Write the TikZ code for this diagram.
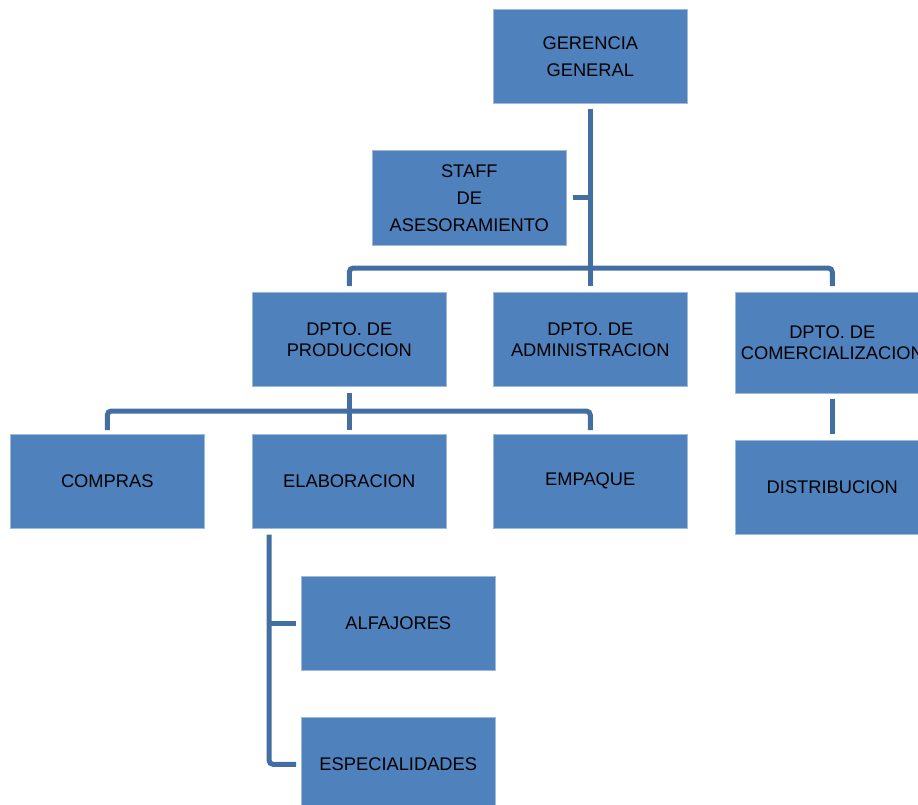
\documentclass[tikz,border=0pt]{standalone}
\usepackage{fontspec}
\setmainfont{Liberation Sans}
\definecolor{boxblue}{HTML}{4F81BD}
\definecolor{linkblue}{HTML}{436EA1}
\begin{document}
\begin{tikzpicture}[x=1pt,y=-1pt,
  unit/.style={fill=boxblue, draw=boxblue!55!white, line width=0.6pt,
    minimum width=194pt, minimum height=94pt, inner sep=0pt,
    align=center, anchor=north west, text=black,
    font=\fontsize{18.3}{27}\selectfont},
  dept/.style={unit, font=\fontsize{18.3}{21}\selectfont},
  link/.style={draw=linkblue, line width=5pt, rounded corners=4pt}]
\useasboundingbox (0,0) rectangle (918,805);

% organisation units
\node[unit] (gg) at (493,9) {GERENCIA\\GENERAL};
\node[unit, minimum height=95pt] (staff) at (372,150) {STAFF\\DE\\ASESORAMIENTO};
\node[dept] (prod) at (252,292) {DPTO. DE\\PRODUCCION};
\node[dept] (adm) at (493,292) {DPTO. DE\\ADMINISTRACION};
\node[dept, minimum height=101pt] (com) at (735,292) {DPTO. DE\\COMERCIALIZACION};
\node[unit] (compras) at (10,434) {COMPRAS};
\node[unit] (elab) at (252,434) {ELABORACION};
\node[unit] (empaque) at (493,434) {EMPAQUE};
\node[unit] (dist) at (735,440) {DISTRIBUCION};
\node[unit] (alf) at (301,576) {ALFAJORES};
\node[unit] (esp) at (301,717) {ESPECIALIDADES};

% junction points
\coordinate (bus) at (590,268);
\coordinate (pbus) at (348,411);
\coordinate (etrunk) at ([xshift=17pt,yshift=-6pt]elab.south west);

% general management to departments
\draw[link] ([yshift=-5pt]gg.south) -- ([yshift=6pt]adm.north);
\draw[link] ([xshift=6pt]staff.east) -- (staff.east -| gg.south);
\draw[link] ([yshift=6pt]prod.north) -- (prod.north |- bus)
  -- (com.north |- bus) -- ([yshift=6pt]com.north);

% production sections
\draw[link] ([yshift=-6pt]prod.south) -- ([yshift=4pt]elab.north);
\draw[link] ([yshift=4pt]compras.north) -- (compras.north |- pbus)
  -- (empaque.north |- pbus) -- ([yshift=4pt]empaque.north);

% commercial to distribution
\draw[link] ([yshift=-5pt]com.south) -- ([yshift=6pt]dist.north);

% elaboration lines
\draw[link] (etrunk) -- (etrunk |- esp.west) -- ([xshift=-5pt]esp.west);
\draw[link] (etrunk |- alf.west) -- ([xshift=-5pt]alf.west);
\end{tikzpicture}
\end{document}
